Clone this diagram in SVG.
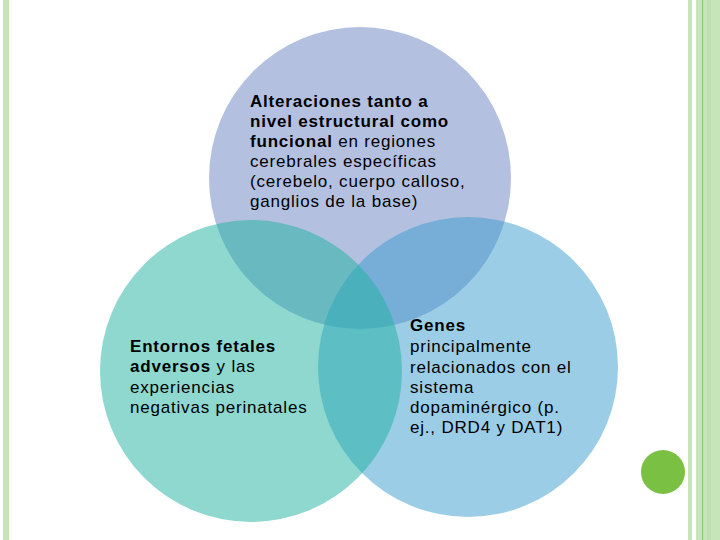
<svg xmlns="http://www.w3.org/2000/svg" width="720" height="540" viewBox="0 0 720 540">
<style>
.lbl{font-family:"Liberation Sans",Arial,sans-serif;font-size:17px;fill:#000;letter-spacing:0.8px}
.b{font-weight:bold}
.venn{fill-opacity:0.5}
.bar{fill:#c6e5ba}
</style>
<rect width="720" height="540" fill="#ffffff"/>
<g id="frame">
<rect class="bar" x="3" y="0" width="6" height="540"/>
<rect class="bar" x="688" y="0" width="4" height="540"/>
<rect class="bar" x="696" y="0" width="24" height="540"/>
<rect x="707" y="0" width="4" height="540" fill="#bfe0b1"/>
<rect x="702" y="0" width="1.2" height="540" fill="#8ccb76"/>
</g>
<g id="node-estructural">
<circle class="venn" cx="360" cy="178" r="151" fill="#6981c1"/>
<text class="lbl" x="250" y="107"><tspan class="b">Alteraciones tanto a</tspan></text>
<text class="lbl" x="250" y="127"><tspan class="b">nivel estructural como</tspan></text>
<text class="lbl" x="250" y="147"><tspan class="b">funcional</tspan> en regiones</text>
<text class="lbl" x="250" y="167">cerebrales específicas</text>
<text class="lbl" x="250" y="187">(cerebelo, cuerpo calloso,</text>
<text class="lbl" x="250" y="207">ganglios de la base)</text>
</g>
<g id="node-genes">
<circle class="venn" cx="468" cy="367" r="150" fill="#399bcd"/>
<text class="lbl" x="410" y="331"><tspan class="b">Genes</tspan></text>
<text class="lbl" x="410" y="352">principalmente</text>
<text class="lbl" x="410" y="373">relacionados con el</text>
<text class="lbl" x="410" y="393">sistema</text>
<text class="lbl" x="410" y="413">dopaminérgico (p.</text>
<text class="lbl" x="410" y="433">ej., DRD4 y DAT1)</text>
</g>
<g id="node-entornos">
<circle class="venn" cx="251" cy="371" r="151" fill="#1db19f"/>
<text class="lbl" x="130" y="352"><tspan class="b">Entornos fetales</tspan></text>
<text class="lbl" x="130" y="372"><tspan class="b">adversos</tspan> y las</text>
<text class="lbl" x="130" y="393">experiencias</text>
<text class="lbl" x="130" y="413">negativas perinatales</text>
</g>
<g id="dot">
<circle cx="663" cy="472" r="22" fill="#7ac143"/>
</g>
</svg>
